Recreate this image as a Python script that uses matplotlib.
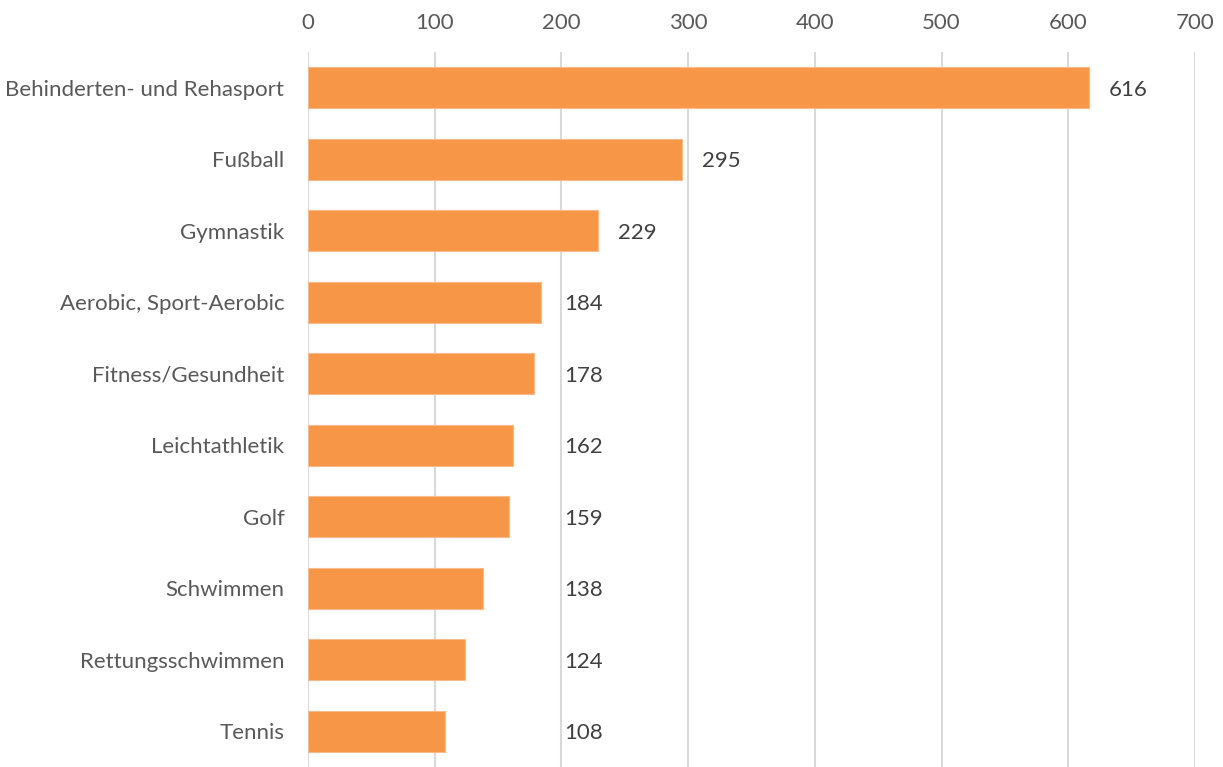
import matplotlib.pyplot as plt

# Sportarten und Anzahl
sportarten = [
    "Behinderten- und Rehasport",
    "Fußball",
    "Gymnastik",
    "Aerobic, Sport-Aerobic",
    "Fitness/Gesundheit",
    "Leichtathletik",
    "Golf",
    "Schwimmen",
    "Rettungsschwimmen",
    "Tennis",
]
anzahl = [616, 295, 229, 184, 178, 162, 159, 138, 124, 108]
x_ticks = [0, 100, 200, 300, 400, 500, 600, 700]

plt.rcParams["font.family"] = ["Lato", "DejaVu Sans"]

fig = plt.figure(figsize=(12.23, 7.67), dpi=100)
ax = fig.add_axes([0.2518, 0.0, 0.7253, 0.9322])

pos = list(range(len(sportarten)))
ax.barh(pos, anzahl, height=0.57, color="#F79646", edgecolor="#FAB98A",
        linewidth=0.8, zorder=3)

# Wertelabels rechts neben den Balken (mindestens bei ca. 202)
for p, v in zip(pos, anzahl):
    ax.text(max(v + 16, 202), p + 0.03, str(v), va="center", ha="left",
            fontsize=16, color="#404040", zorder=4)

ax.set_ylim(len(sportarten) - 0.5, -0.5)
ax.set_yticks(pos)
ax.set_yticklabels(sportarten)
ax.set_xlim(0, 700)
ax.set_xticks(x_ticks)

ax.xaxis.tick_top()
ax.tick_params(axis="x", length=0, pad=14, labelsize=16, labelcolor="#595959")
ax.tick_params(axis="y", length=0, pad=17, labelsize=16, labelcolor="#595959")

ax.grid(axis="x", color="#D9D9D9", linewidth=1.5, zorder=0)
ax.set_axisbelow(True)
for s in ax.spines.values():
    s.set_visible(False)

plt.savefig("out.png", dpi=100)
